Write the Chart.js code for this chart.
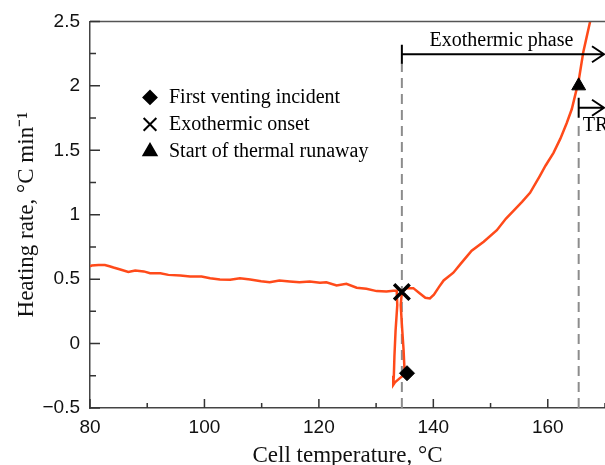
<!DOCTYPE html>
<html lang="en">
<head>
<meta charset="UTF-8">
<title>Heating rate vs cell temperature</title>
<script src="https://cdn.jsdelivr.net/npm/chart.js"></script>
<style>
    body { margin: 0; padding: 0; background: #fff; }
</style>
</head>
<body>
<canvas id="rateChart" width="605" height="465"></canvas>
<script>
// Heating rate curve (°C, °C/min)
const cellTemp = [80.0, 80.3, 81.5, 82.6, 83.4, 84.1, 85.3, 86.7, 87.9, 89.4, 90.5, 92.3, 93.7, 95.8,
    97.5, 99.5, 101.0, 102.7, 104.5, 106.2, 108.0, 109.9, 111.4, 113.1, 114.9, 116.6, 118.4, 120.2,
    121.3, 123.1, 124.8, 126.6, 128.3, 130.1, 131.8, 133.0, 133.6,
    133.7, 133.4, 133.2, 133.1, 133.0, 133.3, 134.1, 135.0, 134.8, 134.5, 134.3, 134.5,
    135.3, 136.5, 137.6, 138.6, 139.4, 140.1, 141.0, 141.8, 143.5, 144.8, 146.7, 148.8, 151.1,
    152.7, 154.0, 155.5, 156.9, 158.6, 159.6, 161.0, 162.2, 163.3, 164.2, 164.8, 165.4, 165.8,
    166.2, 166.8, 167.4, 167.8];
const heatingRate = [0.60, 0.605, 0.61, 0.61, 0.60, 0.59, 0.575, 0.555, 0.567, 0.56, 0.546, 0.546, 0.533, 0.528,
    0.52, 0.52, 0.507, 0.497, 0.495, 0.507, 0.497, 0.484, 0.476, 0.49, 0.482, 0.476, 0.482, 0.472,
    0.476, 0.451, 0.464, 0.433, 0.425, 0.407, 0.404, 0.41, 0.41,
    0.30, 0.10, -0.10, -0.25, -0.32, -0.30, -0.27, -0.24, -0.05, 0.15, 0.30, 0.40,
    0.43, 0.43, 0.39, 0.355, 0.35, 0.38, 0.44, 0.49, 0.55, 0.62, 0.72, 0.79, 0.88,
    0.97, 1.03, 1.10, 1.17, 1.30, 1.38, 1.48, 1.59, 1.71, 1.82, 1.93, 2.04, 2.15,
    2.26, 2.38, 2.50, 2.60];

// Event markers
const ventPoint = [135.4, -0.23];      // first venting incident
const onsetPoint = [134.5, 0.40];      // exothermic onset
const runawayPoint = [165.4, 2.00];    // start of thermal runaway

// Phase markers: dashed guide tops and arrow heights
const exoPhase = { start: 134.5, guideTop: 2.18, arrowAt: 2.245, labelAt: 2.35, labelX: 151.9 };
const trPhase = { start: 165.4, guideTop: 1.70, arrowAt: 1.83, labelAt: 1.69 };

const legendLabels = ['First venting incident', 'Exothermic onset', 'Start of thermal runaway'];
const xTickValues = [80, 100, 120, 140, 160];
const yTickValues = [-0.5, 0, 0.5, 1, 1.5, 2, 2.5];
const yTickLabels = ['\u22120.5', '0', '0.5', '1', '1.5', '2', '2.5'];

const curve = cellTemp.map((t, i) => ({ x: t, y: heatingRate[i] }));

const markerStyles = [
    { pointStyle: 'rectRot', radius: 7.5, borderWidth: 1, legendRadius: 6.5 },
    { pointStyle: 'crossRot', radius: 11, borderWidth: 3.5, legendRadius: 9 },
    { pointStyle: 'triangle', radius: 8, borderWidth: 1, legendRadius: 7.5 }
];

function arrow(ctx, x0, x1, yy, half) {
    ctx.beginPath();
    ctx.moveTo(x0, yy - half);
    ctx.lineTo(x0, yy + half);
    ctx.moveTo(x0, yy);
    ctx.lineTo(x1, yy);
    ctx.moveTo(x1 - 12, yy - 8);
    ctx.lineTo(x1, yy);
    ctx.lineTo(x1 - 12, yy + 8);
    ctx.stroke();
}

const decorPlugin = {
    id: 'decor',
    afterDraw(chart) {
        const ctx = chart.ctx;
        const a = chart.chartArea;
        const xs = chart.scales.x, ys = chart.scales.y;
        ctx.save();

        // top frame
        ctx.strokeStyle = '#555';
        ctx.lineWidth = 1.5;
        ctx.beginPath();
        ctx.moveTo(a.left, a.top);
        ctx.lineTo(a.right, a.top);
        ctx.stroke();

        // inward ticks, major and minor
        ctx.strokeStyle = '#333';
        ctx.lineWidth = 1.5;
        ctx.beginPath();
        for (let v = 80; v <= 170; v += 10) {
            const px = xs.getPixelForValue(v);
            const len = v % 20 === 0 ? 9 : 5;
            ctx.moveTo(px, a.bottom);
            ctx.lineTo(px, a.bottom - len);
        }
        for (let k = 0; k <= 12; k++) {
            const v = -0.5 + k * 0.25;
            const py = ys.getPixelForValue(v);
            const len = k % 2 === 0 ? 10 : 6;
            ctx.moveTo(a.left, py);
            ctx.lineTo(a.left + len, py);
        }
        ctx.stroke();

        // phase arrows
        ctx.strokeStyle = '#000';
        ctx.lineWidth = 2;
        arrow(ctx, xs.getPixelForValue(exoPhase.start), a.right - 1, ys.getPixelForValue(exoPhase.arrowAt), 9.5);
        arrow(ctx, xs.getPixelForValue(trPhase.start), a.right - 1, ys.getPixelForValue(trPhase.arrowAt), 10);

        ctx.fillStyle = '#000';
        ctx.font = '20px "Liberation Serif", serif';
        ctx.textBaseline = 'middle';
        ctx.textAlign = 'center';
        ctx.fillText('Exothermic phase', xs.getPixelForValue(exoPhase.labelX), ys.getPixelForValue(exoPhase.labelAt));
        ctx.textAlign = 'left';
        ctx.fillText('TR', xs.getPixelForValue(trPhase.start) + 4, ys.getPixelForValue(trPhase.labelAt));

        // legend
        const lx = a.left + 60, ly = a.top + 76, step = 27;
        legendLabels.forEach((label, i) => {
            const st = markerStyles[i];
            ctx.fillStyle = '#000';
            ctx.strokeStyle = '#000';
            Chart.helpers.drawPoint(ctx, {
                pointStyle: st.pointStyle, radius: st.legendRadius,
                borderWidth: st.borderWidth, rotation: 0
            }, lx, ly + i * step);
            ctx.fillStyle = '#000';
            ctx.fillText(label, lx + 19, ly + i * step);
        });
        ctx.restore();
    }
};

const markerSet = (pt, st) => ({
    data: [{ x: pt[0], y: pt[1] }],
    showLine: false,
    pointStyle: st.pointStyle,
    pointRadius: st.radius,
    pointBorderWidth: st.borderWidth,
    pointBackgroundColor: '#000',
    pointBorderColor: '#000',
    order: 0
});

const guideSet = (x, top) => ({
    data: [{ x: x, y: -0.5 }, { x: x, y: top }],
    showLine: true,
    borderColor: '#8c8c8c',
    borderWidth: 2,
    borderDash: [10, 6],
    pointRadius: 0,
    order: 2
});

const ctx = document.getElementById('rateChart').getContext('2d');
const rateChart = new Chart(ctx, {
    type: 'scatter',
    data: {
        datasets: [
            markerSet(ventPoint, markerStyles[0]),
            markerSet(onsetPoint, markerStyles[1]),
            markerSet(runawayPoint, markerStyles[2]),
            {
                data: curve,
                showLine: true,
                borderColor: '#ff4a1a',
                borderWidth: 2.5,
                pointRadius: 0,
                tension: 0,
                order: 1
            },
            guideSet(exoPhase.start, exoPhase.guideTop),
            guideSet(trPhase.start, trPhase.guideTop)
        ]
    },
    options: {
        responsive: false,
        animation: false,
        layout: { autoPadding: false, padding: { top: 20, right: 0, bottom: 0, left: 0 } },
        plugins: { legend: { display: false }, tooltip: { enabled: false } },
        scales: {
            x: {
                type: 'linear',
                min: 80,
                max: 170,
                afterFit: (s) => { s.height = 57; s.paddingLeft = 0; s.paddingRight = 0; },
                afterBuildTicks: (s) => { s.ticks = xTickValues.map(v => ({ value: v })); },
                grid: { display: false, drawTicks: false },
                border: { display: true, color: '#444', width: 1.5 },
                ticks: { color: '#111', padding: 8, font: { family: '"Liberation Sans", Arial', size: 19 } },
                title: {
                    display: true,
                    text: 'Cell temperature, \u00B0C',
                    color: '#111',
                    font: { family: '"Liberation Serif", serif', size: 23, lineHeight: 0.78 },
                    padding: { top: 0, bottom: 0 }
                }
            },
            y: {
                type: 'linear',
                min: -0.5,
                max: 2.5,
                afterFit: (s) => { s.width = 90; },
                afterBuildTicks: (s) => { s.ticks = yTickValues.map(v => ({ value: v })); },
                grid: { display: false, drawTicks: false },
                border: { display: true, color: '#444', width: 1.5 },
                ticks: {
                    color: '#111',
                    padding: 10,
                    font: { family: '"Liberation Sans", Arial', size: 19 },
                    callback: (v) => yTickLabels[yTickValues.indexOf(v)]
                },
                title: {
                    display: true,
                    text: 'Heating rate, \u00B0C min\u207B\u00B9',
                    color: '#111',
                    font: { family: '"Liberation Serif", serif', size: 23 },
                    padding: { top: 13, bottom: 0 }
                }
            }
        }
    },
    plugins: [decorPlugin]
});
</script>
</body>
</html>
